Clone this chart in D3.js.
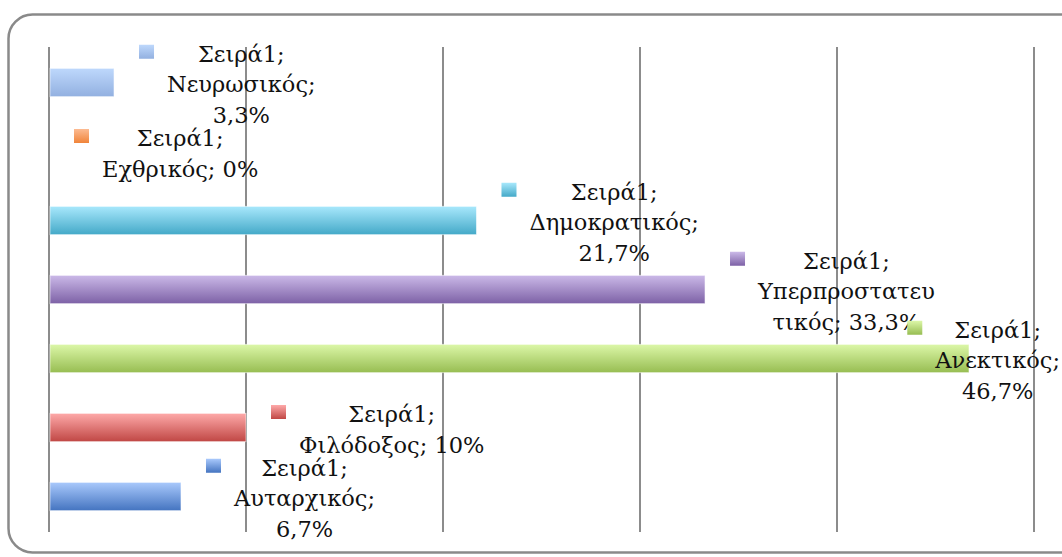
<!DOCTYPE html>
<html>
<head>
<meta charset="utf-8">
<script src="https://cdn.jsdelivr.net/npm/d3@7"></script>
<style>
  body { margin: 0; background: #fff; }
  svg { display: block; }
  .lbl { font-family: "DejaVu Serif", "Liberation Serif", serif; font-size: 22.5px; fill: #111; }
</style>
</head>
<body>
<div id="chart"></div>
<script>
// data, top row first
var categories = ["Νευρωσικός", "Εχθρικός", "Δημοκρατικός", "Υπερπροστατευτικός", "Ανεκτικός", "Φιλόδοξος", "Αυταρχικός"];
var values = [3.3, 0, 21.7, 33.3, 46.7, 10, 6.7];
var seriesName = "Σειρά1";
var labelLines = [
  ["Σειρά1;", "Νευρωσικός;", "3,3%"],
  ["Σειρά1;", "Εχθρικός; 0%"],
  ["Σειρά1;", "Δημοκρατικός;", "21,7%"],
  ["Σειρά1;", "Υπερπροστατευ", "τικός; 33,3%"],
  ["Σειρά1;", "Ανεκτικός;", "46,7%"],
  ["Σειρά1;", "Φιλόδοξος; 10%"],
  ["Σειρά1;", "Αυταρχικός;", "6,7%"]
];
var gridTicks = [0, 10, 20, 30, 40, 50];
var topColors = ["#bed8fc", "#fcbb92", "#a8e8fc", "#cbb9e8", "#dcf7a8", "#fea9a9", "#a9c9fc"];
var bottomColors = ["#92b0e0", "#f0843a", "#44a9c8", "#7d61a6", "#97bd52", "#c04744", "#4474c0"];

var W = 1062, H = 557;

var svg = d3.select("#chart").append("svg")
    .attr("width", W)
    .attr("height", H);

var defs = svg.append("defs");
categories.forEach(function(c, i) {
  var g = defs.append("linearGradient")
      .attr("id", "grad" + i)
      .attr("x1", 0).attr("y1", 0).attr("x2", 0).attr("y2", 1);
  g.append("stop").attr("offset", "0%").attr("stop-color", topColors[i]);
  g.append("stop").attr("offset", "100%").attr("stop-color", bottomColors[i]);
});

// outer chart border (runs off the right edge)
svg.append("rect")
    .attr("x", 8.5).attr("y", 14.5)
    .attr("width", 1075).attr("height", 538)
    .attr("rx", 24).attr("ry", 24)
    .attr("fill", "#fff")
    .attr("stroke", "#8a8a8a")
    .attr("stroke-width", 2.5);

// scales
var x = d3.scaleLinear()
    .domain([0, 50])
    .range([49, 1034]);

var y = d3.scaleBand()
    .domain(categories)
    .range([48, 531])
    .paddingInner(0.59)
    .paddingOuter(0.295);

// vertical gridlines
svg.append("g").selectAll("line")
    .data(gridTicks)
    .enter().append("line")
    .attr("x1", function(d) { return x(d); })
    .attr("x2", function(d) { return x(d); })
    .attr("y1", 47)
    .attr("y2", 532)
    .attr("stroke", "#8c8c8c")
    .attr("stroke-width", 2);

// bars
svg.append("g").selectAll("rect")
    .data(values)
    .enter().append("rect")
    .attr("x", x(0) + 1)
    .attr("y", function(d, i) { return y(categories[i]); })
    .attr("width", function(d) { return Math.max(0, x(d) - x(0) - 1); })
    .attr("height", y.bandwidth())
    .attr("fill", function(d, i) { return "url(#grad" + i + ")"; })
    .attr("stroke", "rgba(255,255,255,0.55)")
    .attr("stroke-width", function(d) { return d > 0 ? 1 : 0; });

// data labels with legend key
var lineH = 30.5, keyW = 15, keyH = 14, keyGap = 28, offset = 25, rightLimit = 1060;

categories.forEach(function(c, i) {
  var g = svg.append("g");
  var lines = labelLines[i];
  var cy = y(c) + y.bandwidth() / 2;
  var top = cy - lines.length * lineH / 2;

  var texts = g.selectAll("text")
      .data(lines)
      .enter().append("text")
      .attr("class", "lbl")
      .attr("text-anchor", "middle")
      .attr("y", function(d, k) { return top + 25 + k * lineH; })
      .text(function(d) { return d; });

  var w = 0;
  texts.each(function() { w = Math.max(w, this.getComputedTextLength()); });

  var left = x(values[i]) + offset;
  if (left + keyGap + w > rightLimit) left = rightLimit - keyGap - w;
  var textCx = left + keyGap + w / 2;
  texts.attr("x", textCx);

  g.insert("rect", "text")
      .attr("x", left)
      .attr("y", top + 25 - 17)
      .attr("width", keyW)
      .attr("height", keyH)
      .attr("fill", "url(#grad" + i + ")");
});
</script>
</body>
</html>
